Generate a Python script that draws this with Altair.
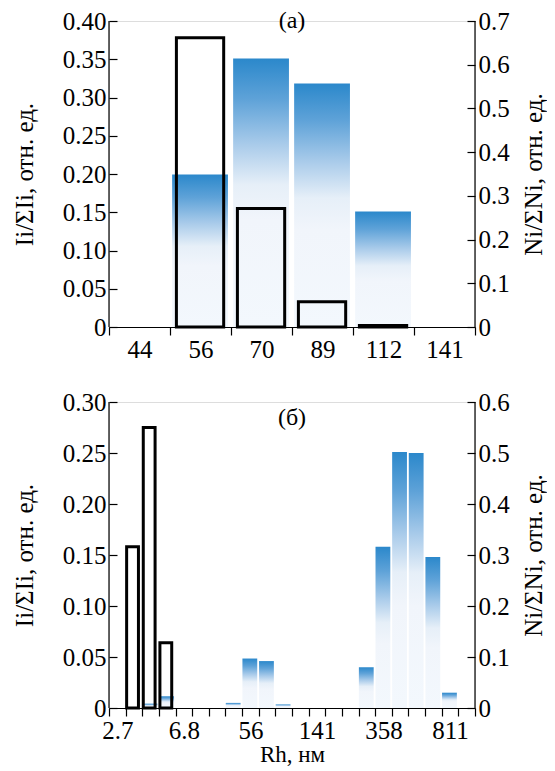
import json
import altair as alt
import pandas as pd

# ---------------- data ----------------
# panel (a)
labels_a = ["44", "56", "70", "89", "112", "141"]
I_a = [0.0, 0.378, 0.155, 0.033, 0.002, 0.0]      # left axis  Ii/ΣIi
N_a = [0.0, 0.349, 0.614, 0.557, 0.264, 0.0]      # right axis Ni/ΣNi

# panel (б)
labels_b = ["2.7", "", "", "", "6.8", "", "", "", "56", "", "", "",
            "141", "", "", "", "358", "", "", "", "811", ""]
I_b = [0.0, 0.158, 0.275, 0.064, 0.0, 0.0, 0.0, 0.0, 0.0, 0.0, 0.0,
       0.0, 0.0, 0.0, 0.0, 0.0, 0.0, 0.0, 0.0, 0.0, 0.0, 0.0]
N_b = [0.0, 0.0, 0.0085, 0.023, 0.0, 0.0, 0.0, 0.010, 0.097, 0.092, 0.007,
       0.0, 0.0, 0.0, 0.0, 0.080, 0.316, 0.502, 0.500, 0.296, 0.030, 0.0]

left_ticks_a = [0, 0.05, 0.10, 0.15, 0.20, 0.25, 0.30, 0.35, 0.40]
right_ticks_a = [0, 0.1, 0.2, 0.3, 0.4, 0.5, 0.6, 0.7]
left_ticks_b = [0, 0.05, 0.10, 0.15, 0.20, 0.25, 0.30]
right_ticks_b = [0, 0.1, 0.2, 0.3, 0.4, 0.5, 0.6]

# ---------------- style ----------------
W, H = 366, 306
FONT = "Liberation Serif"
FS = 25
TFS = 25

grad = alt.Gradient(
    gradient="linear", x1=0, y1=0, x2=0, y2=1,
    stops=[
        alt.GradientStop(color="#2b88cb", offset=0.0),
        alt.GradientStop(color="#5ea2d8", offset=0.15),
        alt.GradientStop(color="#a9cbea", offset=0.32),
        alt.GradientStop(color="#e6eff8", offset=0.47),
        alt.GradientStop(color="#f1f5fb", offset=0.6),
        alt.GradientStop(color="#f3f8fd", offset=1.0),
    ],
)


def panel(labels, I, N, lt, rt, ldec, rdec, blue_in, out_in, tag, tag_x, tag_y, xtitle):
    n = len(labels)
    df = pd.DataFrame({"idx": list(range(n)), "I": I, "N": N})
    bin_px = W / n
    xscale = alt.Scale(domain=[0, n], nice=False, zero=False)
    lab_expr = json.dumps(labels + [""]) + "[datum.value]"
    xaxis = alt.Axis(
        values=list(range(n + 1)), labelExpr=lab_expr, labelOffset=bin_px / 2,
        tickSize=8, tickColor="black", domainColor="black", domainWidth=1.2,
        tickWidth=1.2, grid=False, labelFont=FONT, labelFontSize=FS,
        labelColor="black", labelFlush=False, labelOverlap=False,
        labelBound=False, labelPadding=2, title=xtitle, titleFont=FONT,
        titleFontSize=23, titleFontWeight="normal", titleColor="black",
        titlePadding=0,
    )

    def yaxis(vals, dec, orient, title, pad, baseline):
        return alt.Axis(
            orient=orient, values=vals,
            labelExpr="datum.value == 0 ? '0' : format(datum.value, '.%df')" % dec,
            offset=-8, domain=False, tickSize=8, tickColor="black",
            tickWidth=1.2, grid=False, labelFont=FONT, labelFontSize=FS,
            labelColor="black", labelPadding=3, title=title, titleFont=FONT,
            titleFontSize=TFS, titleFontWeight="normal", titleColor="black",
            titleAngle=270, titleBaseline=baseline, titlePadding=pad,
        )

    blue = alt.Chart(df).transform_filter("datum.N > 0").transform_calculate(
        xa="datum.idx + %f" % blue_in[0], xb="datum.idx + 1 - %f" % blue_in[1]
    ).mark_rect(fill=grad).encode(
        x=alt.X("xa:Q", scale=xscale, axis=xaxis),
        x2="xb:Q",
        y=alt.Y("N:Q", scale=alt.Scale(domain=[0, rt[-1]], nice=False),
                axis=yaxis(rt, rdec, "right", "Ni/ΣNi, отн. ед.", 12, "top")),
        y2=alt.datum(0),
    )

    outline = alt.Chart(df).transform_filter("datum.I > 0").transform_calculate(
        xa="datum.idx + %f" % out_in[0], xb="datum.idx + 1 - %f" % out_in[1]
    ).mark_rect(fill="transparent", stroke="black", strokeWidth=3).encode(
        x=alt.X("xa:Q", scale=xscale, axis=xaxis),
        x2="xb:Q",
        y=alt.Y("I:Q", scale=alt.Scale(domain=[0, lt[-1]], nice=False),
                axis=yaxis(lt, ldec, "left", "Ii/ΣIi, отн. ед.", 25, "bottom")),
        y2=alt.datum(0),
    )

    frame = alt.Chart(pd.DataFrame({"edge": [0, n]})).mark_rule(
        color="black", strokeWidth=1.2
    ).encode(
        x=alt.X("edge:Q", scale=xscale, axis=xaxis),
        y=alt.value(0), y2=alt.value(H),
    )

    text = alt.Chart(pd.DataFrame({"t": [tag], "tx": [tag_x]})).mark_text(
        font=FONT, fontSize=24, color="black", baseline="middle", align="center"
    ).encode(
        x=alt.X("tx:Q", scale=xscale, axis=xaxis),
        y=alt.value(tag_y),
        text="t:N",
    )

    return alt.layer(blue, outline, frame, text).resolve_scale(
        y="independent"
    ).properties(width=W, height=H)


top = panel(labels_a, I_a, N_a, left_ticks_a, right_ticks_a, 2, 1,
            (0.035, 0.05), (0.105, 0.12), "(a)", 3.0, 0, None)
bottom = panel(labels_b, I_b, N_b, left_ticks_b, right_ticks_b, 2, 1,
               (0.02, 0.09), (0.06, 0.23), "(б)", 11.0, 16, "Rh, нм")

chart = alt.vconcat(top, bottom, spacing=26).properties(
    padding={"left": 3, "top": 0, "right": 0, "bottom": 0}
).configure_view(stroke=None).configure(background="white")

chart.save("out.html", embed_options={"renderer": "svg", "actions": False})
